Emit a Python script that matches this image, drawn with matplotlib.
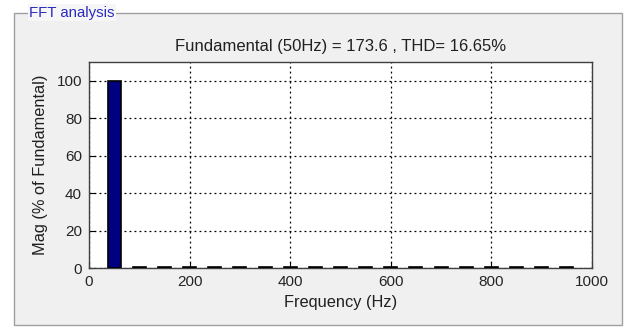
import matplotlib
matplotlib.use("Agg")
import matplotlib.pyplot as plt
from matplotlib.patches import Rectangle
import numpy as np

# Data
freqs = [50, 100, 150, 200, 250, 300, 350, 400, 450, 500, 550, 600, 650, 700, 750, 800, 850, 900, 950]
mags = [100, 0.3, 0.3, 0.3, 0.3, 0.3, 0.3, 0.3, 0.3, 0.3, 0.3, 0.3, 0.3, 0.3, 0.3, 0.3, 0.3, 0.3, 0.3]
xticks = [0, 200, 400, 600, 800, 1000]
yticks = [0, 20, 40, 60, 80, 100]
title = "Fundamental (50Hz) = 173.6 , THD= 16.65%"

plt.rcParams['font.family'] = ['Liberation Sans', 'DejaVu Sans']

W, H = 628, 327
fig = plt.figure(figsize=(W / 100, H / 100), dpi=100)
fig.patch.set_facecolor('white')

# Group box
box = Rectangle((14 / W, 1 - 325 / H), (622 - 14) / W, (325 - 13) / H,
                transform=fig.transFigure, facecolor='#f0f0f0', edgecolor='#a0a0a0',
                linewidth=1.0, zorder=-5)
fig.patches.append(box)
fig.text(29 / W, 1 - 12.5 / H, "FFT analysis", color='#2b2bc0', fontsize=10.8,
         va='center', ha='left', zorder=-4,
         bbox=dict(facecolor='#f6f6f6', edgecolor='none', pad=1.0))

ax = fig.add_axes([89 / W, 1 - 268 / H, (592 - 89) / W, (268 - 62) / H], zorder=2)
ax.set_facecolor('white')
ax.bar(freqs, mags, width=26, color='#000080', edgecolor='black', linewidth=1.2, zorder=3)
ax.set_xlim(0, 1000)
ax.set_ylim(0, 110)
ax.set_xticks(xticks)
ax.set_yticks(yticks)
ax.tick_params(direction='in', labelsize=11, length=4, colors='black', labelcolor='#252525', pad=5)
ax.grid(True, color='black', linestyle=(0, (1.5, 2.5)), linewidth=0.9)
ax.set_axisbelow(True)
for s in ax.spines.values():
    s.set_color('#404040')
    s.set_linewidth(1.0)
ax.set_title(title, fontsize=12, color='#202020', pad=8)
ax.set_xlabel("Frequency (Hz)", fontsize=11.8, color='#202020', labelpad=4)
ax.set_ylabel("Mag (% of Fundamental)", fontsize=11.8, color='#202020', labelpad=6)

fig.savefig("out.png", dpi=100, facecolor=fig.get_facecolor())
